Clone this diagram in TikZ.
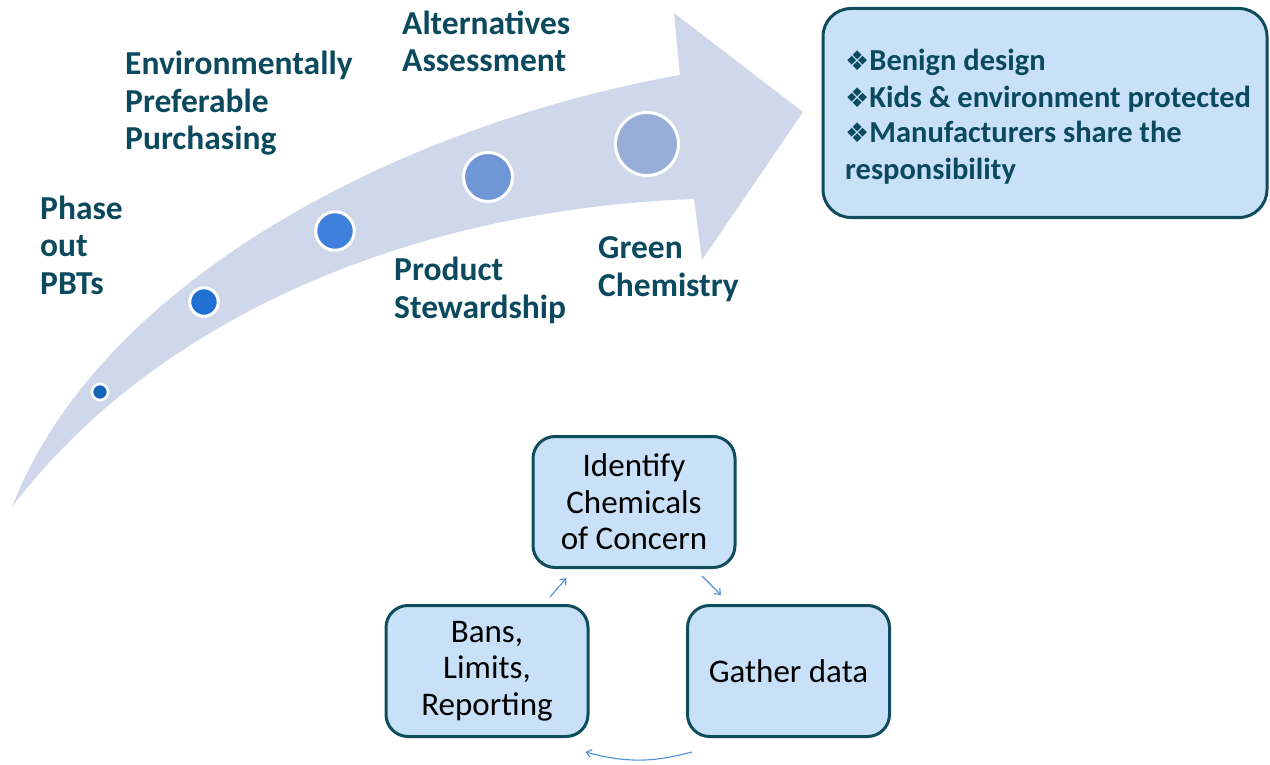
\documentclass[tikz,border=0pt]{standalone}
\usepackage{fontspec}
\setmainfont{Carlito}
\newfontfamily\dingfont{DejaVu Sans}
\usetikzlibrary{arrows.meta,calc}
\definecolor{bandfill}{HTML}{CFD7EA}
\definecolor{darkteal}{HTML}{0B4A5E}
\definecolor{boxfill}{HTML}{C8E1F8}
\definecolor{boxline}{HTML}{0F4C5C}
\definecolor{cyclearrow}{HTML}{4F8FD6}
\definecolor{dotA}{HTML}{1565B8}
\definecolor{dotB}{HTML}{1F70D2}
\definecolor{dotC}{HTML}{3F80DC}
\definecolor{dotD}{HTML}{6F97D6}
\definecolor{dotE}{HTML}{97AED9}
\newcommand{\gem}{{\dingfont\fontsize{27}{36}\selectfont ❖}}

\begin{document}
\begin{tikzpicture}[x=1pt, y=-1pt,
  stage/.style={anchor=base west, align=left, inner sep=0pt, text=darkteal, font=\fontsize{33.5}{37.5}\selectfont\bfseries},
  dot/.style={circle, draw=white, line width=3pt, inner sep=0pt},
  cyclebox/.style={draw=boxline, line width=3pt, fill=boxfill, rounded corners=22pt, minimum width=202pt, minimum height=131pt, align=center, font=\fontsize{33}{36.5}\selectfont},
  cyc/.style={-{Straight Barb[length=5pt,width=8pt]}, cyclearrow, line width=1.1pt}
]
  \useasboundingbox (0,0) rectangle (1270,765);

  % the rising band with its head
  \fill[bandfill] (12,507) .. controls (150,325) and (400,210) .. (694,199)
    -- (702,260) -- (803,112) -- (674,13) -- (680,75)
    .. controls (400,125) and (100,280) .. (12,507) -- cycle;

  \node[dot, minimum size=16pt, fill=dotA, line width=2.5pt] (d1) at (100,392) {};
  \node[dot, minimum size=28.5pt, fill=dotB] (d2) at (204,302) {};
  \node[dot, minimum size=38.5pt, fill=dotC] (d3) at (335,231) {};
  \node[dot, minimum size=49pt, fill=dotD] (d4) at (488,177) {};
  \node[dot, minimum size=63pt, fill=dotE] (d5) at (647,144) {};

  % labels sit on the baseline of their last line
  \node[stage] (phase)   at (40,294)  {Phase\\out\\PBTs};
  \node[stage] (epp)     at (125,150) {Environmentally\\Preferable\\Purchasing};
  \node[stage] (alt)     at (402,72)  {Alternatives\\Assessment};
  \node[stage] (steward) at (394,318) {Product\\Stewardship};
  \node[stage] (green)   at (598,296) {Green\\Chemistry};

  % outcomes
  \node[draw=boxline, line width=3pt, fill=boxfill, rounded corners=28pt,
        minimum width=444pt, minimum height=209pt] (goals) at (1045,113) {};
  \node[anchor=base west, align=left, inner sep=0pt, text=darkteal,
        font=\fontsize{30.5}{36}\selectfont\bfseries] (goaltext) at (845,179)
    {\gem Benign design\\\gem Kids \& environment protected\\\gem Manufacturers share the\\responsibility};

  % cycle
  \node[cyclebox] (iden)   at (634,502)   {Identify\\Chemicals\\of Concern};
  \node[cyclebox] (gather) at (788.5,671) {Gather data};
  \node[cyclebox] (bans)   at (487,671)   {Bans,\\Limits,\\Reporting};

  \draw[cyc] ([xshift=68pt,yshift=-7pt]iden.south) -- ([xshift=35pt,yshift=9pt]gather.north west);
  \draw[cyc] ([xshift=6pt,yshift=-14pt]gather.south west) to[bend left=15] ([xshift=-4pt,yshift=-14pt]bans.south east);
  \draw[cyc] ([xshift=63pt,yshift=7pt]bans.north) -- ([xshift=35pt,yshift=-9pt]iden.south west);
\end{tikzpicture}
\end{document}
